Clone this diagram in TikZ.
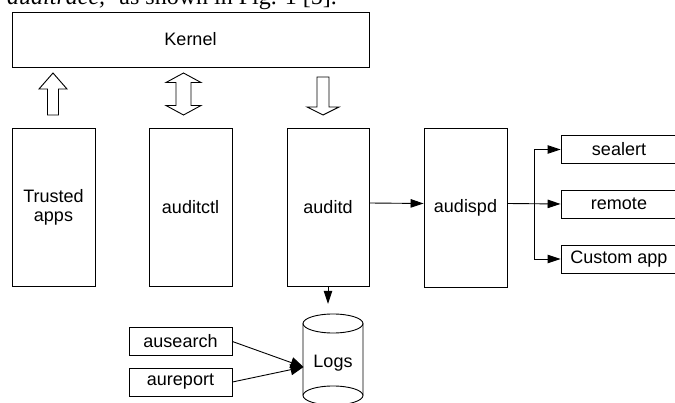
\documentclass[tikz,border=0pt]{standalone}
\usepackage{fontspec}
\setmainfont{Liberation Sans}
\newfontfamily\bodyserif{Liberation Serif}
\usetikzlibrary{arrows.meta,calc}

\tikzset{
  box/.style={draw, line width=0.9pt, inner sep=0pt, align=center,
    font=\fontsize{18}{19}\selectfont},
  tallbox/.style={box, minimum width=83pt, minimum height=158pt},
  sidebox/.style={box, minimum width=116pt, minimum height=27.5pt},
  toolbox/.style={box, minimum width=103pt, minimum height=27.5pt},
  flow/.style={line width=0.9pt, -{Triangle[length=13pt,width=8.5pt]}},
  bigflow/.style={line width=0.9pt, -{Triangle[length=13pt,width=11pt]}},
  outline/.style={draw, line width=0.9pt, fill=white},
  pagetext/.style={inner sep=0pt, font=\bodyserif\fontsize{24}{26}\selectfont},
  blockup/.pic={\path[outline] (0,0) -- (14,16) -- (5.5,16) -- (5.5,42) -- (-5.5,42) -- (-5.5,16) -- (-14,16) -- cycle;},
  blockdown/.pic={\path[outline] (-6,4) -- (6,4) -- (6,34) -- (16,34) -- (0,42) -- (-16,34) -- (-6,34) -- cycle;},
  blockboth/.pic={\path[outline] (0,0) -- (17.5,9.5) -- (7.5,9.5) -- (7.5,32.5) -- (17.5,32.5) -- (0,42) -- (-17.5,32.5) -- (-7.5,32.5) -- (-7.5,9.5) -- (-17.5,9.5) -- cycle;}
}

\begin{document}
\begin{tikzpicture}[x=1pt, y=-1pt]
\useasboundingbox (0,0) rectangle (675,403);
\clip (0,0) rectangle (675,403);

% running text of the page above the figure
\node[pagetext, anchor=base west] (txtA) at (7,4.5) {\itshape auditrace,};
\node[pagetext, anchor=base east] (txtB) at (337,4.5) {as shown in Fig. 1 [5].};

% kernel
\node[box, minimum width=357pt, minimum height=55pt] (kernel) at (190.5,39.5) {Kernel};

% user-space components
\node[tallbox] (trusted) at (53.5,207) {Trusted\\apps};
\node[tallbox] (auditctl) at (190.5,207) {auditctl};
\node[tallbox, minimum width=82pt] (auditd) at (328,207) {auditd};
\node[tallbox, minimum height=159pt] (audispd) at (465.5,207.5) {audispd};

% dispatcher plug-ins
\node[sidebox] (sealert) at (619,149.5) {sealert};
\node[sidebox, minimum height=28pt] (remote) at (619,204) {remote};
\node[sidebox, minimum height=28pt] (custom) at (619,259) {Custom app};

% log tools
\node[toolbox] (ausearch) at (180.5,341.5) {ausearch};
\node[toolbox, minimum height=28pt] (aureport) at (180.5,382) {aureport};

% log storage cylinder
\draw[line width=0.9pt, fill=white] (303,323.5) -- (303,395.5) arc[start angle=180, end angle=360, x radius=30pt, y radius=9.5pt]
  -- (363,323.5);
\draw[line width=0.9pt] (333,323.5) ellipse[x radius=30pt, y radius=9.5pt];
\draw[line width=0.9pt] (303,395.5) arc[start angle=180, end angle=0, x radius=30pt, y radius=9.5pt];
\node[inner sep=0pt, minimum width=60pt, minimum height=91pt] (logs) at (333,359.5) {};
\node[inner sep=0pt, font=\fontsize{18}{19}\selectfont] (logslabel) at (333,363) {Logs};
\coordinate (logsin) at (303.5,367);

% kernel interfaces
\pic at (53,73) {blockup};
\pic at (183.5,73) {blockboth};
\pic at (323,73) {blockdown};

% event flow
\draw[flow] ($(auditd.east)+(0,-4)$) -- ($(audispd.west)+(0,-4)$);
\draw[flow] ($(audispd.east)+(0,-4)$) -- (remote.west);
\coordinate (split) at (534,203.5);
\draw[flow] (split) |- (sealert.west);
\draw[flow] (split) |- (custom.west);
\draw[flow] (auditd.south) -- ($(auditd.south |- logs.north)+(0,-10)$);
\draw[bigflow] (ausearch.east) -- (logsin);
\draw[bigflow] (aureport.east) -- (logsin);
\end{tikzpicture}
\end{document}
